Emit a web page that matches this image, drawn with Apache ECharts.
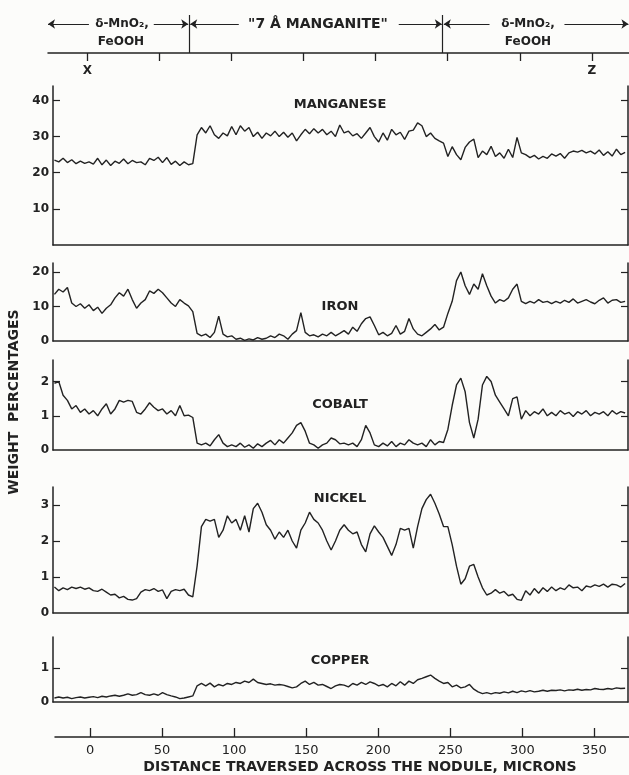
<!DOCTYPE html>
<html>
<head>
<meta charset="utf-8">
<script src="https://cdn.jsdelivr.net/npm/echarts@6.0.0/dist/echarts.min.js"></script>
<style>
  html, body { margin: 0; padding: 0; background: #fcfcfa; }
  #chart { width: 629px; height: 775px; }
</style>
</head>
<body>
<div id="chart"></div>
<script>
// distance traversed across the nodule, microns
const distance = [
  -25, -22, -19, -16, -13, -10, -7, -4, -1, 2, 5,
  8, 11, 14, 17, 20, 23, 26, 29, 32, 35, 38,
  41, 44, 47, 50, 53, 56, 59, 62, 65, 68, 71,
  74, 77, 80, 83, 86, 89, 92, 95, 98, 101, 104,
  107, 110, 113, 116, 119, 122, 125, 128, 131, 134, 137,
  140, 143, 146, 149, 152, 155, 158, 161, 164, 167, 170,
  173, 176, 179, 182, 185, 188, 191, 194, 197, 200, 203,
  206, 209, 212, 215, 218, 221, 224, 227, 230, 233, 236,
  239, 242, 245, 248, 251, 254, 257, 260, 263, 266, 269,
  272, 275, 278, 281, 284, 287, 290, 293, 296, 299, 302,
  305, 308, 311, 314, 317, 320, 323, 326, 329, 332, 335,
  338, 341, 344, 347, 350, 353, 356, 359, 362, 365, 368,
  371
]
// weight percentages
const manganese = [
  23.5, 23.0, 24.0, 22.8, 23.6, 22.5, 23.2, 22.6, 23.0, 22.4, 24.0,
  22.2, 23.5, 22.0, 23.2, 22.6, 23.8, 22.5, 23.4, 22.8, 23.0, 22.2,
  24.0, 23.4, 24.3, 22.8, 24.2, 22.3, 23.2, 22.0, 23.0, 22.2, 22.5,
  30.5, 32.5, 31.0, 33.0, 30.5, 29.5, 31.0, 30.2, 32.8, 30.5, 33.0,
  31.5, 32.5, 30.0, 31.2, 29.5, 31.0, 30.2, 31.5, 30.0, 31.2, 29.8,
  31.0, 28.8, 30.5, 32.0, 30.8, 32.2, 31.0, 32.0, 30.5, 31.5, 30.0,
  33.2, 31.0, 31.5, 30.2, 30.8, 29.5, 31.0, 32.5, 30.0, 28.5, 31.0,
  29.0, 32.0, 30.5, 31.2, 29.2, 31.5, 31.8, 33.8, 33.0, 30.0, 31.0,
  29.5, 28.8, 28.2, 24.5, 27.2, 25.0, 23.6, 27.0, 28.5, 29.3, 24.2,
  26.0, 25.0, 27.3, 24.5, 25.5, 24.0, 26.5, 24.2, 29.8, 25.5, 25.0,
  24.2, 24.8, 23.8, 24.5, 24.0, 25.2, 24.6, 25.3, 24.0, 25.5, 26.0,
  25.7, 26.2, 25.5, 26.0, 25.2, 26.3, 24.8, 25.8, 24.6, 26.5, 25.0,
  25.6
]
const iron = [
  13.5, 15.0, 14.2, 15.5, 11.0, 10.0, 10.8, 9.5, 10.5, 8.8, 9.8,
  8.0, 9.5, 10.5, 12.5, 14.0, 13.0, 15.0, 12.0, 9.5, 11.0, 12.0,
  14.5, 13.8, 15.0, 14.0, 12.5, 11.0, 10.0, 12.0, 11.0, 10.2, 8.5,
  2.2, 1.5, 2.0, 1.0, 2.5, 7.2, 2.0, 1.2, 1.5, 0.5, 0.8,
  0.2, 0.6, 0.3, 1.0, 0.5, 0.8, 1.5, 1.0, 2.0, 1.5, 0.5,
  2.0, 3.0, 8.2, 2.5, 1.5, 1.8, 1.2, 2.0, 1.5, 2.5, 1.5,
  2.2, 3.0, 2.0, 4.0, 2.8, 5.0, 6.5, 7.0, 4.5, 1.8, 2.5,
  1.5, 2.2, 4.5, 2.0, 2.8, 6.5, 3.5, 2.0, 1.5, 2.5, 3.5,
  4.8, 3.2, 4.0, 8.0, 11.5, 17.5, 20.0, 16.0, 13.5, 16.5, 15.0,
  19.5, 16.0, 13.0, 11.0, 12.0, 11.5, 12.5, 15.0, 16.5, 11.5, 10.8,
  11.5, 11.0, 12.0, 11.2, 11.5, 10.8, 11.5, 11.0, 11.8, 11.2, 12.2,
  11.0, 11.5, 12.0, 11.3, 10.8, 11.8, 12.5, 11.0, 11.8, 12.0, 11.2,
  11.5
]
const cobalt = [
  1.95, 2.0, 1.6, 1.45, 1.2, 1.3, 1.1, 1.2, 1.05, 1.15, 1.0,
  1.2, 1.35, 1.05, 1.2, 1.45, 1.4, 1.45, 1.42, 1.1, 1.05, 1.2,
  1.38, 1.25, 1.15, 1.2, 1.05, 1.15, 1.0, 1.3, 1.0, 1.02, 0.95,
  0.2, 0.15, 0.2, 0.12, 0.3, 0.45, 0.2, 0.1, 0.15, 0.1, 0.2,
  0.08, 0.15, 0.05, 0.18, 0.1, 0.2, 0.28, 0.15, 0.3, 0.2, 0.35,
  0.5, 0.72, 0.8, 0.55, 0.2, 0.15, 0.05, 0.15, 0.2, 0.35, 0.3,
  0.18, 0.2, 0.15, 0.2, 0.1, 0.3, 0.72, 0.5, 0.15, 0.1, 0.2,
  0.12, 0.25, 0.1, 0.2, 0.15, 0.3, 0.2, 0.15, 0.2, 0.1, 0.3,
  0.15, 0.25, 0.22, 0.6, 1.3, 1.9, 2.1, 1.7, 0.8, 0.35, 0.9,
  1.9, 2.15, 2.0, 1.6, 1.4, 1.2, 1.0, 1.5, 1.55, 0.9, 1.15,
  1.0, 1.12, 1.05, 1.2, 1.0, 1.1, 1.0, 1.15, 1.05, 1.1, 0.98,
  1.12, 1.05, 1.15, 1.0, 1.1, 1.05, 1.12, 1.0, 1.15, 1.05, 1.12,
  1.08
]
const nickel = [
  0.72, 0.62, 0.7, 0.65, 0.72, 0.68, 0.72, 0.66, 0.7, 0.62, 0.6,
  0.66, 0.58, 0.5, 0.52, 0.42, 0.46, 0.38, 0.36, 0.4, 0.58, 0.65,
  0.62, 0.68, 0.6, 0.64, 0.4, 0.6, 0.65, 0.62, 0.66, 0.5, 0.45,
  1.3, 2.4, 2.6, 2.55, 2.6, 2.1, 2.3, 2.7, 2.5, 2.6, 2.3,
  2.7, 2.25, 2.9, 3.05, 2.8, 2.45, 2.3, 2.05, 2.25, 2.1, 2.3,
  2.0, 1.8, 2.3, 2.5, 2.8, 2.6, 2.5, 2.3, 2.0, 1.75, 2.0,
  2.3, 2.45, 2.3, 2.2, 2.25, 1.9, 1.7, 2.2, 2.42, 2.25, 2.1,
  1.85, 1.6, 1.9, 2.35, 2.3, 2.35, 1.8, 2.4, 2.9, 3.15, 3.3,
  3.05, 2.75, 2.4, 2.4, 1.9, 1.3, 0.8, 0.95, 1.3, 1.35, 1.0,
  0.7, 0.5, 0.55, 0.65, 0.55, 0.6, 0.48, 0.52, 0.38, 0.35, 0.62,
  0.5, 0.68, 0.55, 0.7, 0.6, 0.72, 0.62, 0.7, 0.65, 0.78, 0.7,
  0.72, 0.62, 0.75, 0.72, 0.78, 0.74, 0.8, 0.72, 0.8, 0.78, 0.72,
  0.82
]
const copper = [
  0.12, 0.15, 0.12, 0.14, 0.1, 0.13, 0.15, 0.12, 0.14, 0.16, 0.13,
  0.17, 0.15, 0.18, 0.2, 0.17, 0.2, 0.24, 0.2, 0.22, 0.28, 0.22,
  0.2, 0.24, 0.2, 0.28, 0.22, 0.18, 0.15, 0.1, 0.12, 0.15, 0.18,
  0.48, 0.55, 0.48, 0.56, 0.45, 0.52, 0.48, 0.55, 0.52, 0.58, 0.55,
  0.62, 0.58, 0.68, 0.58, 0.55, 0.52, 0.54, 0.5, 0.52, 0.5, 0.46,
  0.42, 0.45, 0.55, 0.62, 0.52, 0.58, 0.5, 0.52, 0.46, 0.4, 0.48,
  0.52, 0.5, 0.45, 0.55, 0.5, 0.58, 0.52, 0.6, 0.55, 0.48, 0.52,
  0.45, 0.55, 0.48, 0.6, 0.5, 0.62, 0.55, 0.66, 0.7, 0.75, 0.8,
  0.7, 0.62, 0.55, 0.58, 0.45, 0.5, 0.42, 0.45, 0.52, 0.38, 0.3,
  0.25, 0.28, 0.24, 0.28, 0.26, 0.3, 0.27, 0.32, 0.28, 0.33, 0.3,
  0.34, 0.3, 0.32, 0.35, 0.32, 0.35, 0.34, 0.36, 0.33, 0.36, 0.35,
  0.38, 0.35, 0.37, 0.36, 0.4, 0.38, 0.37, 0.4, 0.38, 0.42, 0.4,
  0.41
]

const micronTicks = [0, 50, 100, 150, 200, 250, 300, 350]
const mnTicks = [10, 20, 30, 40]
const feTicks = [0, 10, 20]
const coTicks = [0, 1, 2]
const niTicks = [0, 1, 2, 3]
const cuTicks = [0, 1]
// zone boundaries on the top scale (microns)
const zoneEdges = [70.5, 246.5]

const ink = '#222222'
const font = '"DejaVu Sans", sans-serif'

// one panel per element, stacked
const panels = [
  { name: 'MANGANESE', values: manganese, ticks: mnTicks, top: 86, height: 159, max: 44, labelY: 105 },
  { name: 'IRON', values: iron, ticks: feTicks, top: 263, height: 78, max: 22.6, labelY: 307 },
  { name: 'COBALT', values: cobalt, ticks: coTicks, top: 360, height: 90, max: 2.63, labelY: 405 },
  { name: 'NICKEL', values: nickel, ticks: niTicks, top: 487, height: 126, max: 3.5, labelY: 499 },
  { name: 'COPPER', values: copper, ticks: cuTicks, top: 637, height: 65, max: 1.93, labelY: 661 }
]

let chart = echarts.init(document.getElementById('chart'))

let grid = []
let xAxis = []
let yAxis = []
let series = []
let graphic = []

panels.forEach(function (p, i) {
  grid.push({ left: 53, right: 1, top: p.top, height: p.height })
  xAxis.push({
    type: 'value', gridIndex: i, min: -26, max: 373,
    axisLine: { onZero: false, lineStyle: { color: ink, width: 1.5 } },
    axisTick: { show: false }, axisLabel: { show: false }, splitLine: { show: false }
  })
  yAxis.push({
    type: 'value', gridIndex: i, min: 0, max: p.max, position: 'left',
    axisLine: { show: true, onZero: false, lineStyle: { color: ink, width: 1.5 } },
    axisTick: { show: true, inside: true, length: 7, customValues: p.ticks.filter(v => v > 0), lineStyle: { color: ink, width: 1.2 } },
    axisLabel: { customValues: p.ticks, color: ink, fontSize: 12, fontWeight: 'bold', fontFamily: font, margin: 4 },
    splitLine: { show: false }
  })
  yAxis.push({
    type: 'value', gridIndex: i, min: 0, max: p.max, position: 'right',
    axisLine: { show: true, onZero: false, lineStyle: { color: ink, width: 1.5 } },
    axisTick: { show: true, inside: true, length: 7, customValues: p.ticks.filter(v => v > 0), lineStyle: { color: ink, width: 1.2 } },
    axisLabel: { show: false },
    splitLine: { show: false }
  })
  series.push({
    type: 'line', xAxisIndex: i, yAxisIndex: 2 * i,
    data: distance.map((d, k) => [d, p.values[k]]),
    symbol: 'none', silent: true,
    lineStyle: { color: ink, width: 1.4 }
  })
  graphic.push({
    type: 'text', x: 340, y: p.labelY,
    style: { text: p.name, fill: ink, font: 'bold 13px ' + font, align: 'center', verticalAlign: 'middle', textAlign: 'center', textVerticalAlign: 'middle' }
  })
})

// bottom distance scale
grid.push({ left: 55, right: 0, top: 700, height: 37 })
xAxis.push({
  type: 'value', gridIndex: 5, min: -24.3, max: 374,
  axisLine: { onZero: false, lineStyle: { color: ink, width: 1.5 } },
  axisTick: { inside: true, length: 9, customValues: micronTicks, lineStyle: { color: ink, width: 1.3 } },
  axisLabel: { customValues: micronTicks, color: ink, fontSize: 13, fontFamily: font, margin: 7 },
  splitLine: { show: false }
})
yAxis.push({ type: 'value', gridIndex: 5, min: 0, max: 1, show: false })

// top scale with X ... Z and zone boundaries
grid.push({ left: 48, right: 0, top: 15, height: 38 })
xAxis.push({
  type: 'value', gridIndex: 6, min: -27.4, max: 375.8,
  axisLine: { onZero: false, lineStyle: { color: ink, width: 1.5 } },
  axisTick: { length: 8, customValues: micronTicks, lineStyle: { color: ink, width: 1.3 } },
  axisLabel: {
    customValues: [0, 350], color: ink, fontSize: 12, fontWeight: 'bold', fontFamily: font, margin: 12,
    formatter: function (v) { return v === 0 ? 'X' : (v === 350 ? 'Z' : '') }
  },
  splitLine: { show: false }
})
yAxis.push({ type: 'value', gridIndex: 6, min: 0, max: 1, show: false })

const arrowY = 0.763
series.push({
  type: 'line', xAxisIndex: 6, yAxisIndex: 11, data: [], silent: true,
  markLine: {
    silent: true, animation: false,
    symbol: ['none', 'none'], symbolSize: 7,
    label: { show: false },
    lineStyle: { color: ink, width: 1.2, type: 'solid' },
    data: [
      [{ coord: [zoneEdges[0], 0] }, { coord: [zoneEdges[0], 1] }],
      [{ coord: [zoneEdges[1], 0] }, { coord: [zoneEdges[1], 1] }],
      [{ coord: [-27.4, arrowY], symbol: 'arrow' }, { coord: [1, arrowY] }],
      [{ coord: [46, arrowY] }, { coord: [zoneEdges[0] - 0.6, arrowY], symbol: 'arrow' }],
      [{ coord: [zoneEdges[0] + 0.8, arrowY], symbol: 'arrow' }, { coord: [105, arrowY] }],
      [{ coord: [216, arrowY] }, { coord: [zoneEdges[1] - 0.6, arrowY], symbol: 'arrow' }],
      [{ coord: [zoneEdges[1] + 0.8, arrowY], symbol: 'arrow' }, { coord: [279, arrowY] }],
      [{ coord: [331, arrowY] }, { coord: [375.4, arrowY], symbol: 'arrow' }]
    ]
  }
})

function note(text, x, y, size) {
  return {
    type: 'text', x: x, y: y,
    style: { text: text, fill: ink, font: 'bold ' + size + 'px ' + font, align: 'center', verticalAlign: 'middle', textAlign: 'center', textVerticalAlign: 'middle' }
  }
}
graphic.push(note('δ-MnO₂,', 122, 24, 12))
graphic.push(note('FeOOH', 121, 42, 12))
graphic.push(note('"7 Å MANGANITE"', 318, 24, 14))
graphic.push(note('δ-MnO₂,', 528, 24, 12))
graphic.push(note('FeOOH', 528, 42, 12))
graphic.push({
  type: 'text', x: 14, y: 402, rotation: Math.PI / 2,
  style: { text: 'WEIGHT  PERCENTAGES', fill: ink, font: 'bold 14px ' + font, align: 'center', verticalAlign: 'middle', textAlign: 'center', textVerticalAlign: 'middle' }
})
graphic.push(note('DISTANCE TRAVERSED ACROSS THE NODULE, MICRONS', 360, 767, 14))

let option = {
  animation: false,
  backgroundColor: '#fcfcfa',
  grid: grid,
  xAxis: xAxis,
  yAxis: yAxis,
  series: series,
  graphic: graphic
}
chart.setOption(option)
</script>
</body>
</html>
